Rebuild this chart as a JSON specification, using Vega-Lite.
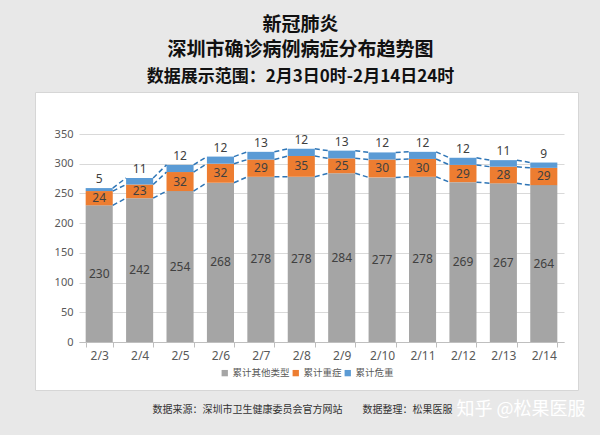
{
  "$schema": "https://vega.github.io/schema/vega-lite/v6.json",
  "width": 543,
  "height": 298,
  "autosize": {"type": "none"},
  "padding": {"left": 35, "top": 92, "right": 22, "bottom": 45},
  "background": "#e8e8e8",
  "config": {
    "view": {"fill": "#ffffff", "stroke": "#d6d6d6"},
    "font": "Noto Sans CJK SC"
  },
  "title": {
    "text": ["新冠肺炎", "深圳市确诊病例病症分布趋势图"],
    "subtitle": "数据展示范围：2月3日0时-2月14日24时",
    "anchor": "middle",
    "frame": "group",
    "dx": -6,
    "offset": 7,
    "font": "Noto Sans CJK SC",
    "fontSize": 19,
    "lineHeight": 25,
    "fontWeight": "bold",
    "color": "#111111",
    "subtitleFont": "Noto Sans CJK SC",
    "subtitleFontSize": 17,
    "subtitleFontWeight": "bold",
    "subtitleColor": "#111111",
    "subtitlePadding": 9
  },
  "data": {
    "values": [
      {"date": "2/3", "type": "累计其他类型", "value": 230},
      {"date": "2/3", "type": "累计重症", "value": 24},
      {"date": "2/3", "type": "累计危重", "value": 5},
      {"date": "2/4", "type": "累计其他类型", "value": 242},
      {"date": "2/4", "type": "累计重症", "value": 23},
      {"date": "2/4", "type": "累计危重", "value": 11},
      {"date": "2/5", "type": "累计其他类型", "value": 254},
      {"date": "2/5", "type": "累计重症", "value": 32},
      {"date": "2/5", "type": "累计危重", "value": 12},
      {"date": "2/6", "type": "累计其他类型", "value": 268},
      {"date": "2/6", "type": "累计重症", "value": 32},
      {"date": "2/6", "type": "累计危重", "value": 12},
      {"date": "2/7", "type": "累计其他类型", "value": 278},
      {"date": "2/7", "type": "累计重症", "value": 29},
      {"date": "2/7", "type": "累计危重", "value": 13},
      {"date": "2/8", "type": "累计其他类型", "value": 278},
      {"date": "2/8", "type": "累计重症", "value": 35},
      {"date": "2/8", "type": "累计危重", "value": 12},
      {"date": "2/9", "type": "累计其他类型", "value": 284},
      {"date": "2/9", "type": "累计重症", "value": 25},
      {"date": "2/9", "type": "累计危重", "value": 13},
      {"date": "2/10", "type": "累计其他类型", "value": 277},
      {"date": "2/10", "type": "累计重症", "value": 30},
      {"date": "2/10", "type": "累计危重", "value": 12},
      {"date": "2/11", "type": "累计其他类型", "value": 278},
      {"date": "2/11", "type": "累计重症", "value": 30},
      {"date": "2/11", "type": "累计危重", "value": 12},
      {"date": "2/12", "type": "累计其他类型", "value": 269},
      {"date": "2/12", "type": "累计重症", "value": 29},
      {"date": "2/12", "type": "累计危重", "value": 12},
      {"date": "2/13", "type": "累计其他类型", "value": 267},
      {"date": "2/13", "type": "累计重症", "value": 28},
      {"date": "2/13", "type": "累计危重", "value": 11},
      {"date": "2/14", "type": "累计其他类型", "value": 264},
      {"date": "2/14", "type": "累计重症", "value": 29},
      {"date": "2/14", "type": "累计危重", "value": 9}
    ]
  },
  "transform": [
    {"calculate": "indexof(['累计其他类型','累计重症','累计危重'], datum.type)", "as": "k"},
    {"calculate": "toNumber(split(datum.date, '/')[1])", "as": "day"},
    {"window": [{"op": "sum", "field": "value", "as": "cum"}], "groupby": ["date"], "sort": [{"field": "k"}], "frame": [null, 0]},
    {"calculate": "datum.cum - datum.value / 2", "as": "mid"},
    {"window": [{"op": "lead", "field": "cum", "as": "nextCum"}, {"op": "lead", "field": "date", "as": "nextDate"}], "groupby": ["type"], "sort": [{"field": "day"}], "frame": [null, null]}
  ],
  "layer": [
    {
      "mark": {"type": "bar"},
      "encoding": {
        "x": {
          "field": "date",
          "type": "ordinal",
          "scale": {
            "domain": ["2/3", "2/4", "2/5", "2/6", "2/7", "2/8", "2/9", "2/10", "2/11", "2/12", "2/13", "2/14"],
            "range": [44, 529],
            "paddingInner": 0.33,
            "paddingOuter": 0.165
          },
          "axis": {
            "orient": "bottom",
            "offset": -48,
            "labelAngle": 0,
            "labelColor": "#595959",
            "labelFontSize": 12,
            "labelFont": "Noto Sans",
            "labelPadding": 3,
            "domainColor": "#bfbfbf",
            "tickColor": "#bfbfbf",
            "tickSize": 5,
            "tickBand": "extent",
            "grid": false,
            "title": "数据来源：深圳市卫生健康委员会官方网站　　数据整理：松果医服",
            "titleX": 117,
            "titleY": 67,
            "titleAlign": "left",
            "titleBaseline": "middle",
            "titleFontSize": 10,
            "titleFontWeight": "normal",
            "titleColor": "#333333",
            "titleFont": "Noto Sans CJK SC"
          }
        },
        "y": {
          "field": "value",
          "type": "quantitative",
          "stack": "zero",
          "scale": {"domain": [0, 350], "range": [250, 42], "nice": false},
          "axis": {
            "values": [0, 50, 100, 150, 200, 250, 300, 350],
            "offset": -44,
            "domain": false,
            "ticks": false,
            "labelPadding": 6,
            "labelColor": "#595959",
            "labelFontSize": 11,
            "labelFont": "Noto Sans",
            "gridColor": "#d9d9d9",
            "title": "知乎 @松果医服",
            "titleAngle": 0,
            "titleX": 377,
            "titleY": 317,
            "titleAlign": "left",
            "titleBaseline": "middle",
            "titleFontSize": 18,
            "titleFontWeight": "normal",
            "titleColor": "#ffffff",
            "titleFont": "Noto Sans CJK SC"
          }
        },
        "order": {"field": "k", "type": "quantitative"},
        "color": {
          "field": "type",
          "type": "nominal",
          "scale": {
            "domain": ["累计其他类型", "累计重症", "累计危重"],
            "range": ["#a5a5a5", "#ed7d31", "#5b9bd5"]
          },
          "legend": {
            "orient": "none",
            "legendX": 185,
            "legendY": 276,
            "direction": "horizontal",
            "title": null,
            "symbolType": "square",
            "symbolSize": 40,
            "symbolStrokeWidth": 0,
            "labelFontSize": 9.5,
            "labelColor": "#595959",
            "labelOffset": 3,
            "columnPadding": 1
          }
        }
      }
    },
    {
      "transform": [{"filter": "datum.nextDate != null"}],
      "mark": {"type": "rule", "strokeDash": [5, 3], "strokeWidth": 1.5, "color": "#2e75b6"},
      "encoding": {
        "x": {"field": "date", "type": "ordinal", "bandPosition": 1},
        "x2": {"field": "nextDate", "bandPosition": 0},
        "y": {"field": "cum", "type": "quantitative"},
        "y2": {"field": "nextCum"}
      }
    },
    {
      "transform": [{"filter": "datum.k < 2"}],
      "mark": {"type": "text", "fontSize": 12, "color": "#404040", "font": "Noto Sans", "baseline": "middle"},
      "encoding": {
        "x": {"field": "date", "type": "ordinal"},
        "y": {"field": "mid", "type": "quantitative"},
        "text": {"field": "value", "type": "quantitative"}
      }
    },
    {
      "transform": [{"filter": "datum.k == 2"}],
      "mark": {"type": "text", "fontSize": 12, "color": "#404040", "font": "Noto Sans", "baseline": "bottom", "dy": -2},
      "encoding": {
        "x": {"field": "date", "type": "ordinal"},
        "y": {"field": "cum", "type": "quantitative"},
        "text": {"field": "value", "type": "quantitative"}
      }
    }
  ]
}
